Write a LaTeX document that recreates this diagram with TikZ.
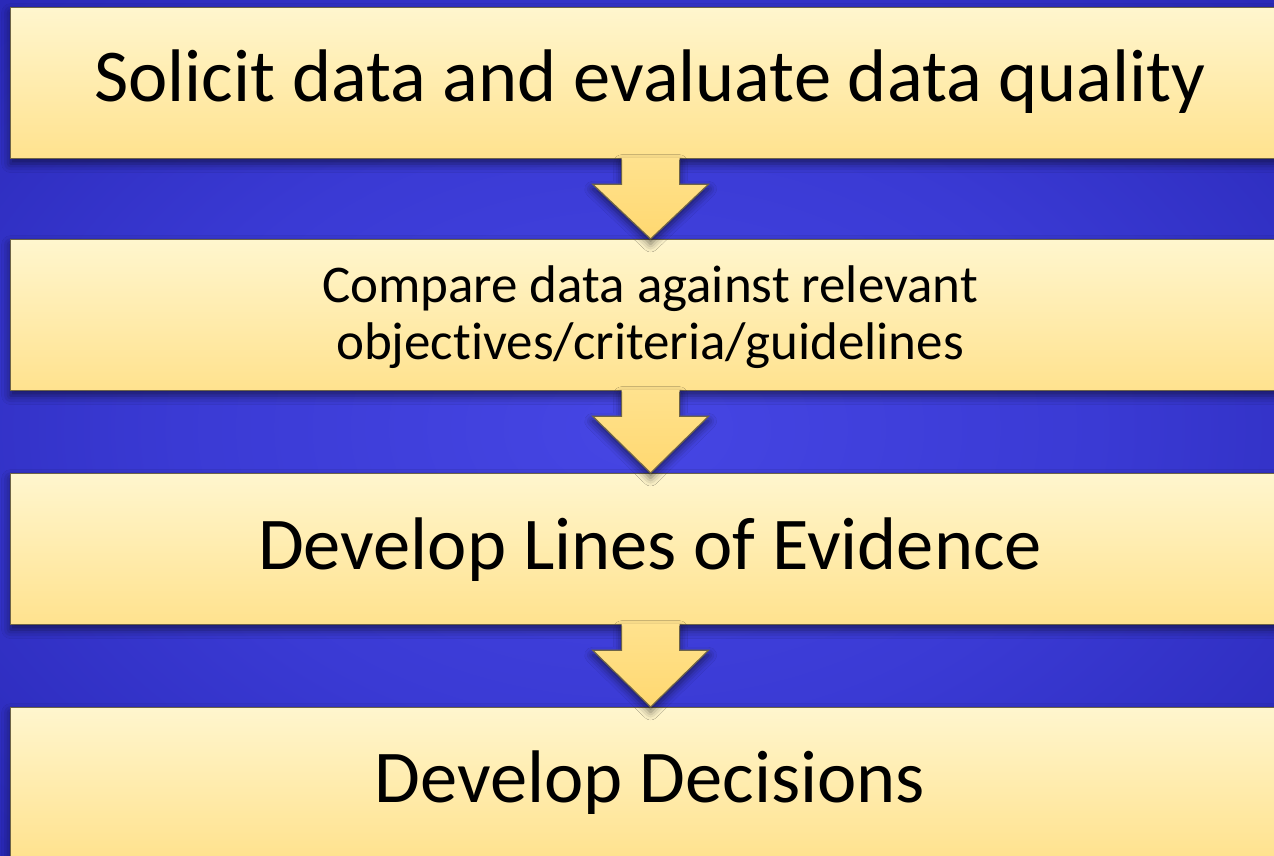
\documentclass[tikz,border=0pt]{standalone}
\usepackage{fontspec}
\setmainfont{Carlito}[Ligatures=NoCommon]
\usetikzlibrary{calc,shadows.blur}
\definecolor{bginner}{RGB}{70,70,228}
\definecolor{bgmid}{RGB}{58,58,212}
\definecolor{bgedge}{RGB}{28,26,160}
\definecolor{bgouter}{RGB}{18,16,140}
\definecolor{boxtop}{RGB}{255,246,206}
\definecolor{boxbot}{RGB}{255,226,142}
\definecolor{arrtop}{RGB}{255,226,142}
\definecolor{arrbot}{RGB}{255,216,112}
\definecolor{edge}{RGB}{110,100,72}
\pgfdeclareradialshading{bgshade}{\pgfpoint{0bp}{0bp}}{%
  color(0bp)=(bginner); color(18bp)=(bgmid); color(50bp)=(bgedge); color(72bp)=(bgouter); color(100bp)=(bgouter)}
\tikzset{
  stagebox/.style={rectangle, draw=edge, line width=1.2pt, top color=boxtop, bottom color=boxbot,
    minimum width=1280pt, minimum height=151pt, anchor=north west, inner sep=0pt,
    blur shadow={shadow xshift=0pt, shadow yshift=-5pt, shadow blur radius=9pt, shadow opacity=55}},
  bigtext/.style={anchor=base, inner sep=0pt, font=\fontsize{74.5}{80}\selectfont},
  midtext/.style={anchor=base, inner sep=0pt, font=\fontsize{53}{60}\selectfont},
  arrowfill/.style={top color=arrtop, bottom color=arrbot,
    blur shadow={shadow xshift=0pt, shadow yshift=-5pt, shadow blur radius=8pt, shadow opacity=55}},
  arrowline/.style={draw=edge, line width=1.2pt, line join=miter}
}
\newcommand\flowdown[2]{%
  \path[arrowfill] ($(#1.south)+(-29,-1.5)$) -- ($(#1.south)+(-29,25)$) -- ($(#1.south)+(-58,25)$)
     -- (#2.north) -- ($(#1.south)+(58,25)$) -- ($(#1.south)+(29,25)$) -- ($(#1.south)+(29,-1.5)$) -- cycle;
  \draw[arrowline] ($(#1.south)+(-29,0.6)$) -- ($(#1.south)+(-29,25)$) -- ($(#1.south)+(-58,25)$)
     -- (#2.north) -- ($(#1.south)+(58,25)$) -- ($(#1.south)+(29,25)$) -- ($(#1.south)+(29,0.6)$);
}
\begin{document}
\begin{tikzpicture}[x=1pt,y=-1pt]
\useasboundingbox (0,0) rectangle (1274,856);
\clip (0,0) rectangle (1274,856);
\shade[shading=bgshade] (0,0) rectangle (1274,856);
% boxes
\node[stagebox] (b1) at (10,7) {};
\node[stagebox] (b2) at (10,239) {};
\node[stagebox] (b3) at (10,473) {};
\node[stagebox] (b4) at (10,707) {};
% texts
\node[bigtext] (t1) at (650,102) {Solicit data and evaluate data quality};
\node[midtext] (t2a) at (650,302) {Compare data against relevant};
\node[midtext] (t2b) at (650,359) {objectives/criteria/guidelines};
\node[bigtext] (t3) at (650,569) {Develop Lines of Evidence};
\node[bigtext] (t4) at (650,802) {Develop Decisions};
% arrows
\flowdown{b1}{b2}
\flowdown{b2}{b3}
\flowdown{b3}{b4}
\end{tikzpicture}
\end{document}
